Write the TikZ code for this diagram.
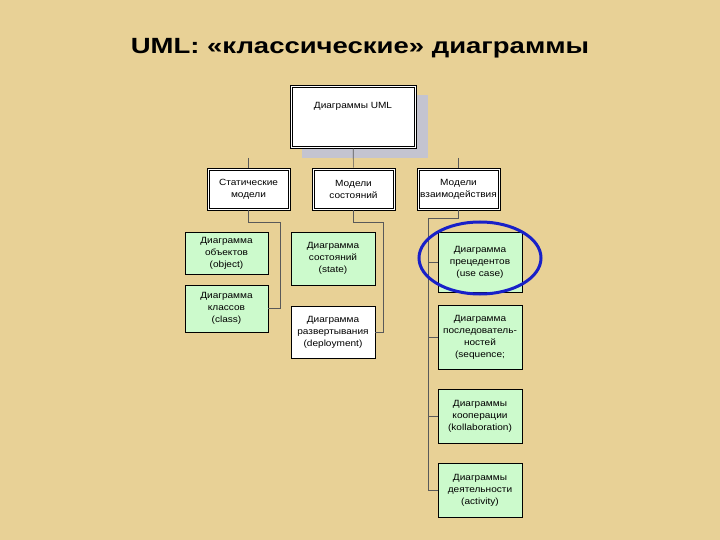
\documentclass[tikz,border=0pt]{standalone}
\usepackage{fontspec}
\setmainfont{Liberation Sans}[FakeStretch=1.12]
\newfontfamily\titlefont{Liberation Sans}[FakeStretch=1.25]
\usetikzlibrary{positioning}

\definecolor{parchment}{RGB}{232,209,150}
\definecolor{boxgreen}{RGB}{204,250,204}
\definecolor{shadowgray}{RGB}{196,196,208}
\definecolor{ringblue}{RGB}{24,32,200}

\tikzset{
  levelbox/.style={draw=black,line width=.7pt,fill=white,
    align=center,inner sep=1pt,font=\fontsize{9}{12}\selectfont},
  diagbox/.style={draw,line width=.6pt,fill=boxgreen,align=center,inner sep=1pt,
    font=\fontsize{9}{12}\selectfont},
  link/.style={draw=black!65,line width=.6pt}
}

\begin{document}
\begin{tikzpicture}
[x=1pt,y=-1pt]
\fill[parchment] (0,0) rectangle (720,540);
\useasboundingbox (0,0) rectangle (720,540);

\node (title) at (360,48) {\titlefont\fontsize{22}{26}\selectfont\bfseries UML: «классические» диаграммы};

% shadow of the top box
\fill[shadowgray] (302,95) rectangle (428,158);
\node[levelbox,minimum width=126pt,minimum height=63pt] (top) at (353,116.5) {Диаграммы UML\\[10pt]};

\node[levelbox,minimum width=83pt,minimum height=42pt] (s1) at (248.5,189) {Статические\\модели};
\node[levelbox,minimum width=83pt,minimum height=42pt] (s2) at (353.5,189) {Модели\\состояний};
\node[levelbox,minimum width=83pt,minimum height=42pt] (s3) at (458.5,189) {Модели\\взаимодействия};

% inner line of the double frames
\foreach \n in {top,s1,s2,s3}
\draw[line width=.6pt] ([xshift=2.2pt,yshift=-2.2pt]\n.north west) rectangle ([xshift=-2.2pt,yshift=2.2pt]\n.south east);

\node[diagbox,minimum width=83pt,minimum height=42pt] (obj) at (226.5,253) {Диаграмма\\объектов\\(object)};
\node[diagbox,minimum width=83pt,minimum height=47pt] (cls) at (226.5,308.5) {Диаграмма\\классов\\(class)};
\node[diagbox,minimum width=84pt,minimum height=53pt] (state) at (333,258.5) {Диаграмма\\состояний\\(state)};
\node[diagbox,fill=white,minimum width=84pt,minimum height=52pt] (depl) at (333,332) {Диаграмма\\развертывания\\(deployment)};
\node[diagbox,minimum width=84pt,minimum height=60pt] (uc) at (480,262) {Диаграмма\\прецедентов\\(use case)};
\node[diagbox,minimum width=84pt,minimum height=64pt] (seq) at (480,337) {Диаграмма\\последователь-\\ностей\\(sequence;};
\node[diagbox,minimum width=84pt,minimum height=54pt] (coll) at (480,416) {Диаграммы\\кооперации\\(kollaboration)};
\node[diagbox,minimum width=84pt,minimum height=54pt] (act) at (480,490) {Диаграммы\\деятельности\\(activity)};

\coordinate (t1) at (248.5,158);
\coordinate (t3) at (458.5,158);
\coordinate (j1) at (280,222);
\coordinate (j2) at (383,222);
\coordinate (j3) at (428,218);

\foreach \from/\to in {top/s2,t1/s1,t3/s3}
\draw[link] (\from) -- (\to);
\draw[link] (s1.south) |- (j1) |- (cls.east);
\draw[link] (s2.south) |- (j2) |- (depl.east);
\draw[link] (s3.south) |- (j3) |- (act.west);
\foreach \n in {uc,seq,coll}
\draw[link] (j3 |- \n.west) -- (\n.west);

\draw[ringblue,line width=3pt] (480,258) ellipse [x radius=61pt,y radius=36pt];
\end{tikzpicture}
\end{document}
